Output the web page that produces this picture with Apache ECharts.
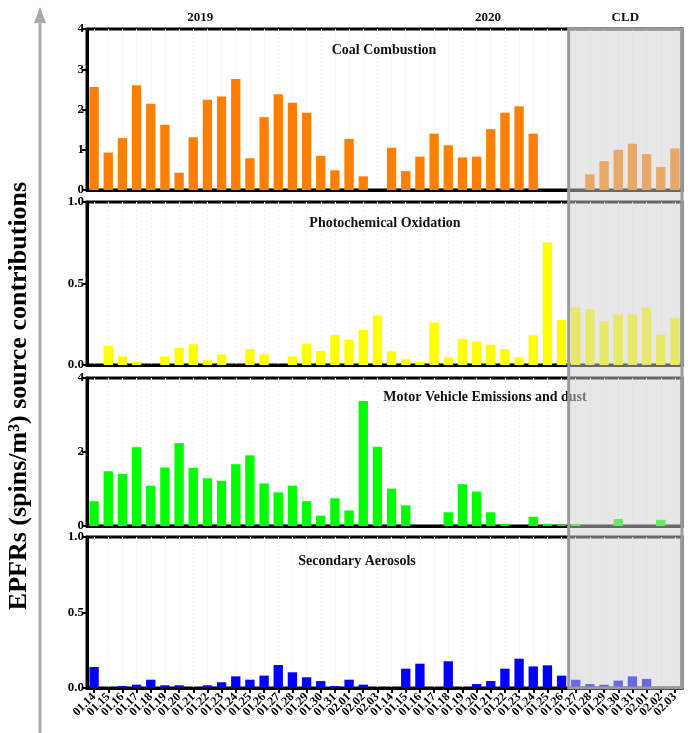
<!DOCTYPE html>
<html><head><meta charset="utf-8">
<script src="https://cdn.jsdelivr.net/npm/echarts@6/dist/echarts.min.js"></script>
<style>html,body{margin:0;padding:0;background:#fff}#c{width:688px;height:733px}</style>
</head><body><div id="c"></div>
<script>
// ---- tick labels / categories ----
const dates2019 = ['01.14','01.15','01.16','01.17','01.18','01.19','01.20','01.21','01.22','01.23','01.24','01.25','01.26','01.27','01.28','01.29','01.30','01.31','02.01','02.02','02.03'];
const dates2020 = ['01.14','01.15','01.16','01.17','01.18','01.19','01.20','01.21','01.22','01.23','01.24','01.25','01.26'];
const datesCLD  = ['01.27','01.28','01.29','01.30','01.31','02.01','02.02','02.03'];
const periodLabels = ['2019','2020','CLD'];
const panelTitles = ['Coal Combustion','Photochemical Oxidation','Motor Vehicle Emissions and dust','Secondary Aerosols'];
const yAxisTitle = 'EPFRs (spins/m\u00B3) source contributions';

// ---- series values (42 days) ----
const coal = [2.56,0.93,1.29,2.60,2.14,1.62,0.43,1.31,2.24,2.32,2.76,0.79,1.81,2.38,2.17,1.92,0.85,0.49,1.27,0.34,0,
              1.05,0.47,0.83,1.40,1.11,0.81,0.83,1.51,1.92,2.08,1.40,0,0,
              0,0.39,0.72,1.00,1.15,0.89,0.57,1.03];
const photo = [0,0.118,0.053,0.02,0,0.053,0.106,0.127,0.029,0.065,0,0.098,0.065,0,0.053,0.131,0.086,0.184,0.155,0.216,0.304,
               0.084,0.035,0.02,0.261,0.047,0.159,0.145,0.124,0.098,0.047,0.182,0.751,0.276,
               0.353,0.341,0.267,0.31,0.31,0.353,0.186,0.29];
const motor = [0.67,1.48,1.41,2.13,1.09,1.58,2.24,1.57,1.29,1.22,1.67,1.91,1.15,0.91,1.09,0.67,0.28,0.75,0.42,3.38,2.14,
               1.01,0.56,0,0,0.37,1.13,0.93,0.37,0.06,0,0.25,0.06,0.04,
               0.05,0,0,0.19,0,0,0.17,0];
const secondary = [0.139,0,0.013,0.022,0.055,0.018,0.018,0,0.018,0.038,0.077,0.055,0.082,0.152,0.104,0.071,0.046,0.013,0.055,0.022,0,
                   0,0.128,0.161,0,0.177,0,0.026,0.046,0.128,0.194,0.143,0.15,0.082,
                   0.055,0.026,0.022,0.049,0.077,0.06,0,0];

const panelData = [coal, photo, motor, secondary];
const panelColors = ['#ff8000','#ffff00','#00ff00','#0000ff'];
const yMax = [4, 1, 4, 1];
const yInterval = [1, 0.5, 2, 0.5];
const yDecimals = [0, 1, 0, 1];

const cats = [].concat(
  dates2019.map(d => '2019 ' + d),
  dates2020.map(d => '2020 ' + d),
  datesCLD.map(d => 'CLD ' + d)
);

const FONT = 'Liberation Serif';
const gridPos = [
  {top: 29, height: 161},
  {top: 202, height: 163},
  {top: 378, height: 148},
  {top: 537, height: 151}
];

const option = {
  animation: false,
  backgroundColor: '#fff',
  grid: gridPos.map(g => ({left: 87, right: 6, top: g.top, height: g.height,
    show: true, borderColor: '#000', borderWidth: 3, backgroundColor: 'transparent'})),
  xAxis: gridPos.map((g, i) => ({
    gridIndex: i, type: 'category', data: cats, boundaryGap: true,
    axisLine: {show: true, lineStyle: {color: '#000', width: 3}},
    axisTick: {show: i === 3, alignWithLabel: true, length: 5, lineStyle: {color: '#000', width: 2}},
    axisLabel: {show: i === 3, interval: 0, rotate: 45, margin: 7, color: '#000',
      fontFamily: FONT, fontWeight: 'bold', fontSize: 12,
      formatter: v => v.split(' ')[1]},
    splitLine: {show: true, alignWithLabel: true, lineStyle: {color: '#ebebeb', type: [2, 2], width: 1}}
  })),
  yAxis: gridPos.map((g, i) => ({
    gridIndex: i, type: 'value', min: 0, max: yMax[i], interval: yInterval[i],
    axisLine: {show: true, lineStyle: {color: '#000', width: 3}},
    axisTick: {show: true, length: 5, lineStyle: {color: '#000', width: 2}},
    axisLabel: {color: '#000', fontFamily: FONT, fontWeight: 'bold', fontSize: 13, margin: 3,
      formatter: v => Number(v).toFixed(yDecimals[i])},
    splitLine: {show: false}
  })),
  series: panelData.map((d, i) => ({
    type: 'bar', xAxisIndex: i, yAxisIndex: i, data: d,
    barCategoryGap: '34%', itemStyle: {color: panelColors[i]}
  }))
};

const chart = echarts.init(document.getElementById('c'), null, {renderer: 'canvas'});
chart.setOption(option);

// ---- annotations computed from the axes ----
const px = i => chart.convertToPixel({xAxisIndex: 0}, i);
const band = px(1) - px(0);
const cldStart = dates2019.length + dates2020.length;
const xL = px(cldStart) - band / 2;
const xR = px(cats.length - 1) + band / 2;
const yT = chart.convertToPixel({yAxisIndex: 0}, yMax[0]);
const yB = chart.convertToPixel({yAxisIndex: 3}, 0);

const titleStyle = {fontFamily: FONT, fontWeight: 'bold', fontSize: 14, fill: '#111', align: 'center', verticalAlign: 'middle'};
const titlePos = [[384, 50], [385, 223], [485, 397], [357, 561]];
const graphics = [];
panelTitles.forEach((t, i) => graphics.push({type: 'text', x: titlePos[i][0], y: titlePos[i][1], z: 50,
  style: Object.assign({text: t}, titleStyle)}));
// period labels
const periodX = [px(0) + band * 7.5, px(0) + band * 27.8, (xL + xR) / 2];
periodLabels.forEach((t, i) => graphics.push({type: 'text', x: periodX[i], y: 18, z: 50,
  style: {text: t, fontFamily: FONT, fontWeight: 'bold', fontSize: 13, fill: '#111', align: 'center', verticalAlign: 'middle'}}));
// CLD shaded box
graphics.push({type: 'rect', z: 100, shape: {x: xL, y: yT, width: xR - xL, height: yB - yT},
  style: {fill: 'rgba(208,208,208,0.5)', stroke: '#9a9a9a', lineWidth: 3}});
// left arrow
graphics.push({type: 'line', z: 10, shape: {x1: 40, y1: 20, x2: 40, y2: 733}, style: {stroke: '#aaaaaa', lineWidth: 3}});
graphics.push({type: 'polygon', z: 10, shape: {points: [[40, 7], [34, 23], [46, 23]]}, style: {fill: '#aaaaaa'}});
// y axis title
graphics.push({type: 'text', x: 19, y: 396, rotation: Math.PI / 2, z: 50,
  style: {text: yAxisTitle, fontFamily: FONT, fontWeight: 'bold', fontSize: 26, fill: '#000', align: 'center', verticalAlign: 'middle'}});

chart.setOption({graphic: graphics});
</script>
</body></html>
